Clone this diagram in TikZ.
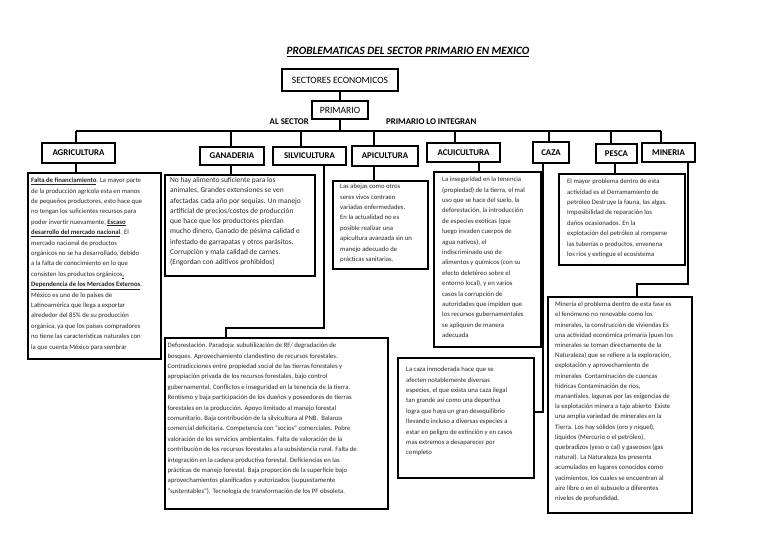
\documentclass[tikz,border=0pt]{standalone}
\usepackage{fontspec}
\setmainfont{Carlito}
\begin{document}
\begin{tikzpicture}[x=1pt,y=-1pt,
  lbl/.style={draw=black, line width=1.7pt, inner sep=0pt, font=\fontsize{8.8}{10}\selectfont\bfseries},
  hdr/.style={draw=black, line width=1.7pt, inner sep=0pt, font=\fontsize{9.6}{10}\selectfont},
  tbox/.style={draw=black, line width=1.6pt, inner sep=0pt, anchor=north west},
  conn/.style={line width=2.4pt, line join=miter},
  body/.style={anchor=base west, inner sep=0pt, text=black!85, font=\fontsize{6.7}{10.4}\selectfont},
  side/.style={inner sep=0pt, font=\fontsize{8.8}{10}\selectfont\bfseries}
]
\fill[white] (0,0) rectangle (768,543);
\useasboundingbox (0,0) rectangle (768,543);

% title
\node[inner sep=0pt] (title) at (408,52) {\fontsize{11.2}{12}\selectfont\bfseries\itshape\underline{PROBLEMATICAS DEL SECTOR PRIMARIO EN MEXICO}};

% header boxes
\node[hdr, minimum width=116pt, minimum height=22pt] (sect) at (340,80) {SECTORES ECONOMICOS};
\node[hdr, minimum width=56pt, minimum height=18pt] (prim) at (340,110) {PRIMARIO};
\node[side, anchor=east] (alsec) at (309,122) {AL SECTOR};
\node[side, anchor=west] (integ) at (386,122) {PRIMARIO LO INTEGRAN};

% category labels
\node[lbl, minimum width=73pt, minimum height=20pt] (agriL) at (78.5,153) {AGRICULTURA};
\node[lbl, minimum width=64pt, minimum height=18pt] (ganaL) at (232,156) {GANADERIA};
\node[lbl, minimum width=73pt, minimum height=18pt] (silvL) at (309.5,156) {SILVICULTURA};
\node[lbl, minimum width=66pt, minimum height=20pt] (apicL) at (385,156) {APICULTURA};
\node[lbl, minimum width=73pt, minimum height=19pt] (acuiL) at (463.5,152.5) {ACUICULTURA};
\node[lbl, minimum width=36pt, minimum height=21pt] (cazaL) at (551,152.5) {CAZA};
\node[lbl, minimum width=41pt, minimum height=19pt] (pescaL) at (616.5,153.5) {PESCA};
\node[lbl, minimum width=53pt, minimum height=19pt] (minL) at (668.5,152.5) {MINERIA};

% text boxes
\node[tbox, minimum width=133pt, minimum height=186pt] (agriT) at (27,172) {};
\node[tbox, minimum width=150pt, minimum height=101pt] (ganaT) at (164,174) {};
\node[tbox, minimum width=223pt, minimum height=171pt] (deforT) at (164,337) {};
\node[tbox, minimum width=95pt, minimum height=88pt] (apicT) at (332,180) {};
\node[tbox, minimum width=107pt, minimum height=175pt] (acuiT) at (433,171) {};
\node[tbox, minimum width=136pt, minimum height=120pt] (cazaT) at (397,357) {};
\node[tbox, minimum width=126pt, minimum height=91pt] (pescaT) at (558,173) {};
\node[tbox, minimum width=144pt, minimum height=216pt] (minT) at (547,296) {};

% connectors
\coordinate (bl) at (76,131);
\coordinate (br) at (661,131);
\draw[conn] (sect.south) -- (prim.north);
\draw[conn] (prim.south) -- (prim.south |- bl);
\draw[conn] (bl) -- (br);
\foreach \n/\x in {agriL/76, ganaL/231, silvL/301, apicL/374, acuiL/455, cazaL/549, pescaL/611, minL/661}{
  \coordinate (t) at (\x,131);
  \draw[conn] (t) -- (\n.north -| t);
}
\coordinate (dag) at (76,0);
\coordinate (dga) at (231,0);
\coordinate (dap) at (374,0);
\coordinate (dac) at (479,0);
\coordinate (dpe) at (615,0);
\draw[conn] (agriL.south -| dag) -- (agriT.north -| dag);
\draw[conn] (ganaL.south -| dga) -- (ganaT.north -| dga);
\draw[conn] (apicL.south -| dap) -- (apicT.north -| dap);
\draw[conn] (acuiL.south -| dac) -- (acuiT.north -| dac);
\draw[conn] (pescaL.south -| dpe) -- (pescaT.north -| dpe);
\coordinate (s1) at (324,328);
\coordinate (s2) at (226,328);
\draw[conn] (silvL.south -| s1) -- (s1) -- (s2) -- (deforT.north -| s2);
\coordinate (c1) at (543,412);
\draw[conn] (cazaL.south -| c1) -- (c1) -- (cazaT.east |- c1);
\coordinate (m1) at (688,284);
\coordinate (m2) at (637,284);
\draw[conn] (minL.south -| m1) -- (m1) -- (m2) -- (minT.north -| m2);

% texts
\node[body] (agriX) at ([xshift=4pt,yshift=-10.6pt]agriT.north west) {\parbox[t]{300pt}{\raggedright
\underline{\textbf{Falta de financiamiento}}. La mayor parte\\
de la producción agrícola esta en manos\\
de pequeños productores, esto hace que\\
no tengan los suficientes recursos para\\
poder invertir nuevamente, \underline{\textbf{Escaso}}\\
\underline{\textbf{desarrollo del mercado nacional}}. El\\
mercado nacional de productos\\
orgánicos no se ha desarrollado, debido\\
a la falta de conocimiento en lo que\\
consisten los productos orgánicos\underline{\textbf{,}}\\
\underline{\textbf{Dependencia de los Mercados Externos}}.\\
México es uno de lo países de\\
Latinoamérica que llega a exportar\\
alrededor del 85\% de su producción\\
orgánica, ya que los países compradores\\
no tiene las características naturales con\\
la que cuenta México para sembrar}};

\node[body, font=\fontsize{7.4}{10.25}\selectfont] (ganaX) at ([xshift=6pt,yshift=-8.6pt]ganaT.north west) {\parbox[t]{300pt}{\raggedright
No hay alimento suficiente para los\\
animales, Grandes extensiones se ven\\
afectadas cada año por sequias. Un manejo\\
artificial de precios/costos de producción\\
que hace que los productores pierdan\\
mucho dinero, Ganado de pésima calidad e\\
infestado de garrapatas y otros parásitos.\\
Corrupción y mala calidad de carnes.\\
(Engordan con aditivos prohibidos)}};

\node[body] (deforX) at ([xshift=3.5pt,yshift=-10.6pt]deforT.north west) {\parbox[t]{300pt}{\raggedright
Deforestación. Paradoja: subutilización de RF/ degradación de\\
bosques. Aprovechamiento clandestino de recursos forestales.\\
Contradicciones entre propiedad social de las tierras forestales y\\
apropiación privada de los recursos forestales, bajo control\\
gubernamental. Conflictos e inseguridad en la tenencia de la tierra.\\
Rentismo y baja participación de los dueños y poseedores de tierras\\
forestales en la producción. Apoyo limitado al manejo forestal\\
comunitario. Baja contribución de la silvicultura al PNB.\ \ Balanza\\
comercial deficitaria. Competencia con "socios" comerciales. Pobre\\
valoración de los servicios ambientales. Falta de valoración de la\\
contribución de los recursos forestales a la subsistencia rural. Falta de\\
integración en la cadena productiva forestal. Deficiencias en las\\
prácticas de manejo forestal. Baja proporción de la superficie bajo\\
aprovechamientos planificados y autorizados (supuestamente\\
"sustentables"). Tecnología de transformación de los PF obsoleta.}};

\node[body] (apicX) at ([xshift=8pt,yshift=-8.6pt]apicT.north west) {\parbox[t]{300pt}{\raggedright
Las abejas como otros\\
seres vivos contraen\\
variadas enfermedades.\\
En la actualidad no es\\
posible realizar una\\
apicultura avanzada sin un\\
manejo adecuado de\\
prácticas sanitarias.}};

\node[body] (acuiX) at ([xshift=9pt,yshift=-10.6pt]acuiT.north west) {\parbox[t]{300pt}{\raggedright
La inseguridad en la tenencia\\
(propiedad) de la tierra, el mal\\
uso que se hace del suelo, la\\
deforestación, la introducción\\
de especies exóticas (que\\
luego invaden cuerpos de\\
agua nativos), el\\
indiscriminado uso de\\
alimentos y químicos (con su\\
efecto deletéreo sobre el\\
entorno local), y en varios\\
casos la corrupción de\\
autoridades que impiden que\\
los recursos gubernamentales\\
se apliquen de manera\\
adecuada}};

\node[body] (cazaX) at ([xshift=9pt,yshift=-14.6pt]cazaT.north west) {\parbox[t]{300pt}{\raggedright
La caza inmoderada hace que se\\
afecten notablemente diversas\\
especies, el que exista una caza ilegal\\
tan grande así como una deportiva\\
logra que haya un gran desequilibrio\\
llevando incluso a diversas especies a\\
estar en peligro de extinción y en casos\\
mas extremos a desaparecer por\\
completo}};

\node[body] (pescaX) at ([xshift=9pt,yshift=-10.6pt]pescaT.north west) {\parbox[t]{300pt}{\raggedright
El mayor problema dentro de esta\\
actividad es el Derramamiento de\\
petróleo Destruye la fauna, las algas.\\
Imposibilidad de reparación los\\
daños ocasionados. En la\\
explotación del petróleo al romperse\\
las tuberías o productos, envenena\\
los ríos y extingue el ecosistema}};

\node[body, font=\fontsize{6.7}{10.2}\selectfont] (minX) at ([xshift=8pt,yshift=-10.6pt]minT.north west) {\parbox[t]{300pt}{\raggedright
Minería el problema dentro de esta fase es\\
el fenómeno no renovable como los\\
minerales, la construcción de viviendas Es\\
una actividad económica primaria (pues los\\
minerales se toman directamente de la\\
Naturaleza) que se refiere a la exploración,\\
explotación y aprovechamiento de\\
minerales\ \ Contaminación de cuencas\\
hídricas Contaminación de ríos,\\
manantiales, lagunas por las exigencias de\\
la explotación minera a tajo abierto\ \ Existe\\
una amplia variedad de minerales en la\\
Tierra. Los hay sólidos (oro y níquel),\\
líquidos (Mercurio o el petróleo),\\
quebradizos (yeso o cal) y gaseosos (gas\\
natural). La Naturaleza los presenta\\
acumulados en lugares conocidos como\\
yacimientos, los cuales se encuentran al\\
aire libre o en el subsuelo a diferentes\\
niveles de profundidad.}};
\end{tikzpicture}
\end{document}
